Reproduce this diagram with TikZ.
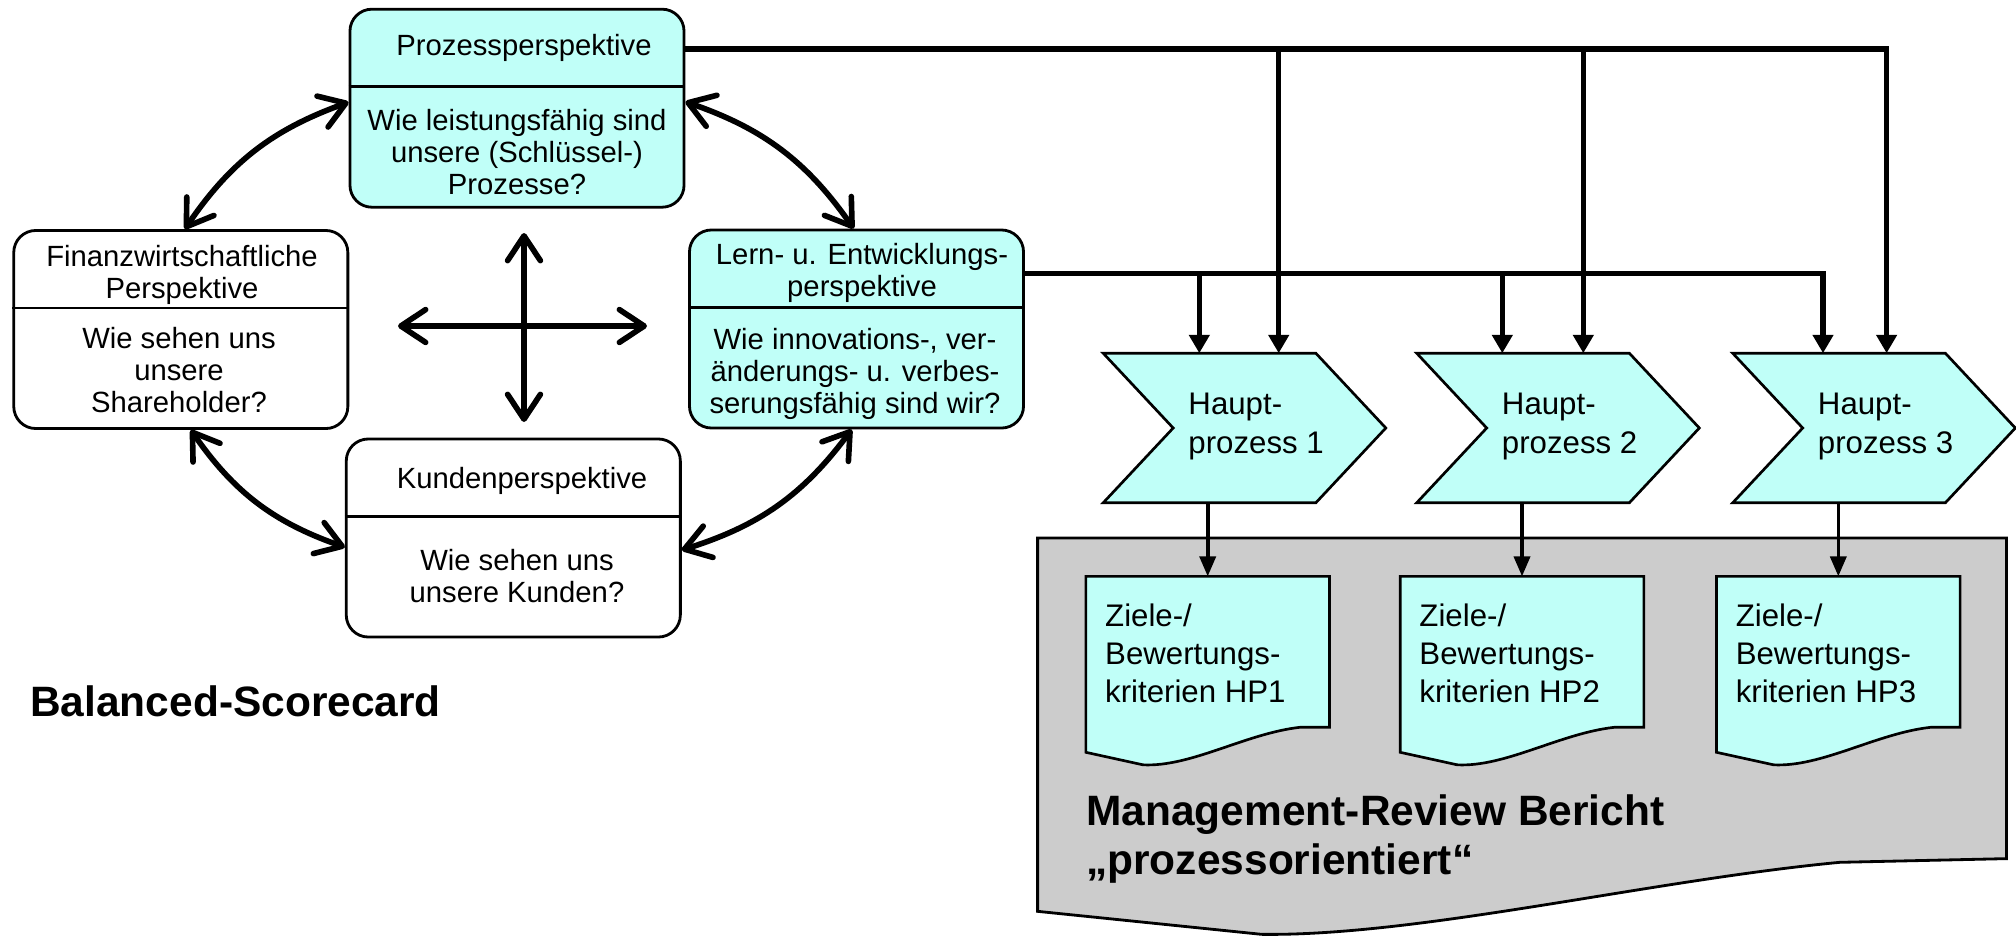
\documentclass[tikz,border=0pt]{standalone}
\usepackage{fontspec}
\setmainfont{Liberation Sans}
\usetikzlibrary{arrows.meta,calc}
\definecolor{cyanfill}{RGB}{192,255,248}
\definecolor{reportgray}{RGB}{204,204,204}

\begin{document}
\begin{tikzpicture}[x=0.025cm,y=-0.025cm,
  persp/.style={draw, line width=2pt, rounded corners=0.55cm,
    minimum width=8.35cm, minimum height=4.95cm, inner sep=0pt},
  cyanbox/.style={persp, fill=cyanfill},
  whitebox/.style={persp, fill=white},
  divider/.style={line width=2pt},
  boxtext/.style={font=\fontsize{20.8pt}{22.6pt}\selectfont, align=center, inner sep=0pt},
  hptext/.style={font=\fontsize{22.2pt}{27.2pt}\selectfont, align=left, inner sep=0pt, anchor=west},
  bigtext/.style={font=\fontsize{30.2pt}{34.4pt}\selectfont\bfseries, align=left, inner sep=0pt, anchor=west},
  hpframe/.style={inner sep=0pt, minimum width=7.05cm, minimum height=3.725cm},
  docframe/.style={inner sep=0pt, minimum width=6.075cm, minimum height=3.7575cm},
  hpshape/.style={draw, fill=cyanfill, line width=1.9pt, line join=miter},
  docshape/.style={draw, fill=cyanfill, line width=1.9pt},
  reportshape/.style={draw, fill=reportgray, line width=2pt},
  dbl/.style={line width=4pt,
    {Straight Barb[length=0.62cm,width=0.82cm,round]}-{Straight Barb[length=0.62cm,width=0.82cm,round]}},
  bus/.style={line width=3.8pt, -{Triangle[length=0.46cm,width=0.5cm]}},
  thinarrow/.style={line width=2.6pt, -{Triangle[length=0.5cm,width=0.4cm]}}
]
\useasboundingbox (0,0) rectangle (2016,935);
\fill[white] (0,0) rectangle (2016,935);

% ---------- Balanced Scorecard perspectives ----------
\node[cyanbox]  (P) at (517,108.2) {};
\node[whitebox] (F) at (180.8,329.5) {};
\node[cyanbox]  (L) at (856.5,329) {};
\node[whitebox] (K) at (513.3,538) {};

\foreach \b in {P,F,L,K}
  \draw[divider] ($(\b.north west)+(0,79)$) -- ($(\b.north east)+(0,79)$);

\node[boxtext] (Ph) at (524,48) {Prozessperspektive};
\node[boxtext] (Pb) at (517,152) {Wie leistungsfähig sind\\unsere (Schlüssel-)\\Prozesse?};
\node[boxtext] (Fh) at (182,275) {Finanzwirtschaftliche\\Perspektive};
\node[boxtext] (Fb) at (179,370) {Wie sehen uns\\unsere\\Shareholder?};
\node[boxtext] (Lh) at (862,273) {Lern- u. Entwicklungs-\\perspektive};
\node[boxtext] (Lb) at (855,374) {Wie innovations-, ver-\\änderungs- u. verbes-\\serungsfähig sind wir?};
\node[boxtext] (Kh) at (522,481) {Kundenperspektive};
\node[boxtext] (Kb) at (517,576) {Wie sehen uns\\unsere Kunden?};

% mutual influence between the perspectives
\draw[dbl] ([yshift=0.15cm]P.west) to[bend right=18] ([xshift=0.1cm]F.north);
\draw[dbl] ([xshift=0.25cm]F.south) to[bend right=18] ([yshift=-0.23cm]K.west);
\draw[dbl] ([yshift=-0.3cm]K.east) to[bend right=18] ([xshift=-0.12cm]L.south);
\draw[dbl] ([xshift=-0.07cm]L.north) to[bend right=18] ([yshift=0.16cm]P.east);

% central cross
\coordinate (cN) at (524,233);
\coordinate (cS) at (524,422);
\coordinate (cW) at (398,326);
\coordinate (cE) at (647,326);
\draw[dbl] (cN) -- (cS);
\draw[dbl] (cW) -- (cE);

\node[bigtext] (bsc) at (30,701.7) {Balanced-Scorecard};

% ---------- main processes ----------
\node[hpframe] (hp1) at (1244.5,428) {};
\node[hpframe] (hp2) at (1558,428) {};
\node[hpframe] (hp3) at (1874,428) {};
\foreach \h/\n in {hp1/1,hp2/2,hp3/3}{
  \draw[hpshape] (\h.north west) -- ($(\h.north east)+(-70,0)$) -- (\h.east)
    -- ($(\h.south east)+(-70,0)$) -- (\h.south west) -- ($(\h.west)+(70,0)$) -- cycle;
  \node[hptext] (\h t) at ($(\h.west)+(85,-1.5)$) {Haupt-\\prozess \n};
}

% ---------- management review report ----------
\node[inner sep=0pt, minimum width=24.2cm, minimum height=8cm] (mr) at (1522,698.3) {};
\draw[reportshape] (mr.south east) -- (mr.north east) -- (mr.north west)
  -- ($(mr.south west)+(0,52.7)$) -- ($(mr.south west)+(224,75.7)$)
  .. controls ($(mr.south west)+(382,77.7)$) and ($(mr.south west)+(612,21.7)$)
  .. ($(mr.south west)+(802,3.7)$) -- cycle;

\node[docframe] (z1) at (1207.7,651.85) {};
\node[docframe] (z2) at (1522,651.85) {};
\node[docframe] (z3) at (1838.3,651.85) {};
\foreach \z/\n in {z1/1,z2/2,z3/3}{
  \draw[docshape] (\z.south east) -- (\z.north east) -- (\z.north west)
    -- ($(\z.south west)+(0,25)$) -- ($(\z.south west)+(57,37.5)$)
    .. controls ($(\z.south west)+(105,40)$) and ($(\z.south west)+(160,6)$)
    .. ($(\z.south west)+(214,0)$) -- cycle;
  \node[hptext] (\z t) at ($(\z.west)+(19,1.5)$) {Ziele-/\\Bewertungs-\\kriterien HP\n};
}

\node[bigtext] (mrt) at (1086,839) {Management-Review Bericht\\„prozessorientiert“};

% ---------- connections ----------
\coordinate (pt1) at (1278.7,49.1);
\coordinate (pt2) at (1583.3,49.1);
\coordinate (pt3) at (1886.6,49.1);
\coordinate (lt1) at (1199.3,273.5);
\coordinate (lt2) at (1502.3,273.5);
\coordinate (lt3) at (1823,273.5);

\draw[bus] (P.east |- pt3) -- (pt3) -- (pt3 |- hp3.north);
\draw[bus] (pt1) -- (pt1 |- hp1.north);
\draw[bus] (pt2) -- (pt2 |- hp2.north);
\draw[bus] (L.east |- lt3) -- (lt3) -- (lt3 |- hp3.north);
\draw[bus] (lt1) -- (lt1 |- hp1.north);
\draw[bus] (lt2) -- (lt2 |- hp2.north);

\draw[thinarrow] (hp1.south -| z1.north) -- (z1.north);
\draw[thinarrow] (hp2.south -| z2.north) -- (z2.north);
\draw[thinarrow] (hp3.south -| z3.north) -- (z3.north);
\end{tikzpicture}
\end{document}
